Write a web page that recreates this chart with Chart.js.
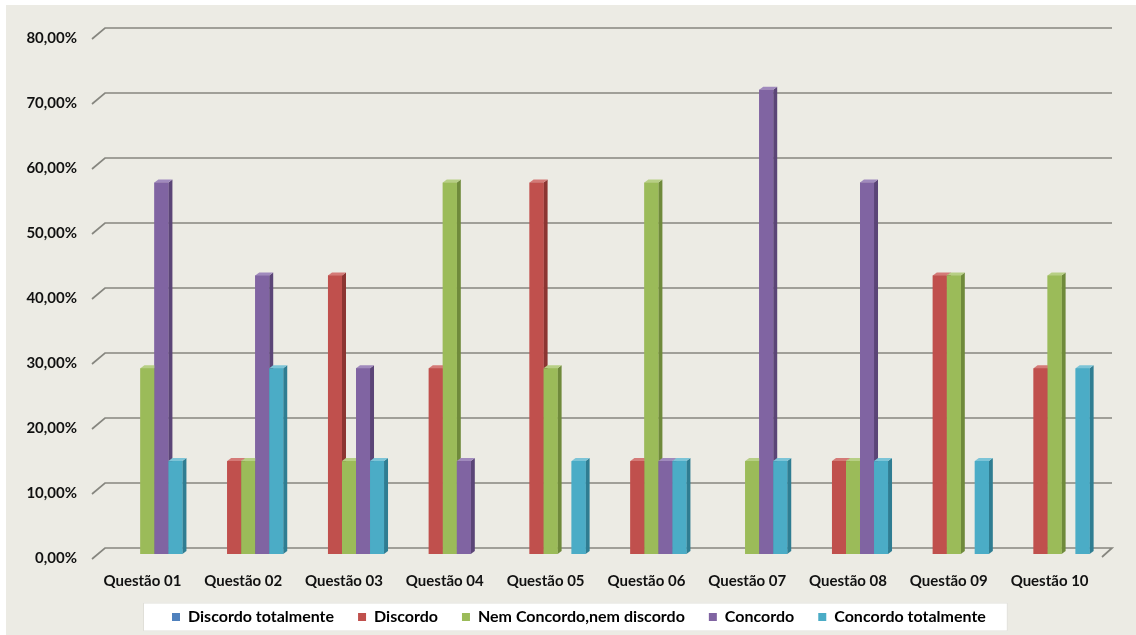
<!DOCTYPE html>
<html>
<head>
<meta charset="utf-8">
<script src="https://cdn.jsdelivr.net/npm/chart.js@4.4.1/dist/chart.umd.min.js"></script>
<style>
  html, body { margin: 0; padding: 0; background: #ffffff; }
  #wrap { position: absolute; left: 6px; top: 5px; width: 1130px; height: 630px; background: #ecebe4; }
</style>
</head>
<body>
<div id="wrap"><canvas id="chart" width="1130" height="630"></canvas></div>
<script>
// dados da pesquisa (fração de respostas por questão)
const questoes = ['Questão 01', 'Questão 02', 'Questão 03', 'Questão 04', 'Questão 05',
                  'Questão 06', 'Questão 07', 'Questão 08', 'Questão 09', 'Questão 10'];

const discordoTotalmente = [0, 0, 0, 0, 0, 0, 0, 0, 0, 0];
const discordo           = [0, 0.1429, 0.4286, 0.2857, 0.5714, 0.1429, 0, 0.1429, 0.4286, 0.2857];
const nemConcordo        = [0.2857, 0.1429, 0.1429, 0.5714, 0.2857, 0.5714, 0.1429, 0.1429, 0.4286, 0.4286];
const concordo           = [0.5714, 0.4286, 0.2857, 0.1429, 0, 0.1429, 0.7143, 0.5714, 0, 0];
const concordoTotalmente = [0.1429, 0.2857, 0.1429, 0, 0.1429, 0.1429, 0.1429, 0.1429, 0.1429, 0.2857];

const SERIES = [
  { label: 'Discordo totalmente',        data: discordoTotalmente, color: '#4f81bd', side: '#385d8a', top: '#7a9fcf' },
  { label: 'Discordo',                   data: discordo,           color: '#c0504d', side: '#8c3532', top: '#d47a77' },
  { label: 'Nem Concordo,nem discordo',  data: nemConcordo,        color: '#9bbb59', side: '#6f8a3b', top: '#b7cf85' },
  { label: 'Concordo',                   data: concordo,           color: '#8064a2', side: '#5b4577', top: '#a08abd' },
  { label: 'Concordo totalmente',        data: concordoTotalmente, color: '#4bacc6', side: '#2f7d92', top: '#7cc4d7' },
];

const FONT = 'Lato, "Open Sans", sans-serif';
const DEPTH_X = 4, DEPTH_Y = 3;
const LEGEND_PAD = 24;

// grade com efeito 3D (parede de fundo deslocada) + faces laterais das barras
const grid3d = {
  id: 'grid3d',
  beforeDatasetsDraw(chart) {
    const { ctx, chartArea: a, scales: { y } } = chart;
    ctx.save();
    ctx.strokeStyle = '#86867f';
    ctx.lineWidth = 1.7;
    y.ticks.forEach(t => {
      const yf = y.getPixelForValue(t.value);
      ctx.beginPath();
      ctx.moveTo(a.left - 5, yf + 5);
      ctx.lineTo(a.left + 8, yf - 6);
      ctx.lineTo(a.right + 7, yf - 6);
      if (t.value === 0) ctx.lineTo(a.right - 3, yf + 3);
      ctx.stroke();
    });
    ctx.restore();
  },
  afterDatasetsDraw(chart) {
    const { ctx } = chart;
    const n = chart.data.labels.length;
    ctx.save();
    for (let i = 0; i < n; i++) {
      chart.data.datasets.forEach((ds, di) => {
        const el = chart.getDatasetMeta(di).data[i];
        if (!el || !ds.data[i]) return;
        const { x, y, base, width } = el.getProps(['x', 'y', 'base', 'width'], true);
        const l = x - width / 2, r = x + width / 2;
        const s = SERIES[di];
        ctx.fillStyle = s.side;
        ctx.beginPath();
        ctx.moveTo(r, y); ctx.lineTo(r + DEPTH_X, y - DEPTH_Y);
        ctx.lineTo(r + DEPTH_X, base - DEPTH_Y); ctx.lineTo(r, base);
        ctx.closePath(); ctx.fill();
        ctx.fillStyle = s.top;
        ctx.beginPath();
        ctx.moveTo(l, y); ctx.lineTo(l + DEPTH_X, y - DEPTH_Y);
        ctx.lineTo(r + DEPTH_X, y - DEPTH_Y); ctx.lineTo(r, y);
        ctx.closePath(); ctx.fill();
        ctx.fillStyle = s.color;
        ctx.fillRect(l, y, width, base - y);
      });
    }
    ctx.restore();
  }
};

// legenda deslocada como no Excel, com caixa branca atrás
const legendBox = {
  id: 'legendBox',
  afterLayout(chart) {
    const lg = chart.legend;
    lg.left = 142;
    lg.top = 580;
    lg.bottom = chart.height;
    lg.height = lg.bottom - lg.top;
  },
  beforeDraw(chart) {
    const lg = chart.legend;
    const boxes = lg && lg.legendHitBoxes;
    if (!boxes || !boxes.length) return;
    const last = boxes[boxes.length - 1];
    const { ctx } = chart;
    ctx.save();
    ctx.fillStyle = '#ffffff';
    ctx.strokeStyle = '#e0dfd8';
    const x0 = lg.left + LEGEND_PAD - 29, x1 = last.left + last.width + 22;
    const yc = lg.top + LEGEND_PAD + last.height / 2;
    ctx.fillRect(x0, yc - 14.5, x1 - x0, 29);
    ctx.strokeRect(x0 + 0.5, yc - 14, x1 - x0 - 1, 28);
    ctx.restore();
  }
};

new Chart(document.getElementById('chart'), {
  type: 'bar',
  data: {
    labels: questoes,
    datasets: SERIES.map(s => ({
      label: s.label,
      data: s.data,
      backgroundColor: s.color,
      borderWidth: 0,
      barPercentage: 1,
      categoryPercentage: 0.695,
    })),
  },
  options: {
    responsive: false,
    animation: false,
    layout: { padding: { top: 29, right: 31, left: 0, bottom: 0 } },
    plugins: {
      legend: {
        position: 'bottom',
        align: 'start',
        maxHeight: 36,
        labels: {
          color: '#000000',
          font: { family: FONT, size: 16, weight: 'bold' },
          boxWidth: 8, boxHeight: 8,
          padding: LEGEND_PAD,
        },
      },
      tooltip: { enabled: false },
    },
    scales: {
      x: {
        grid: { display: false },
        border: { display: false },
        ticks: { color: '#111111', font: { family: FONT, size: 15, weight: 'bold' }, padding: 10, labelOffset: -5, maxRotation: 0 },
        afterFit: s => { s.height = 45; },
      },
      y: {
        min: 0, max: 0.8,
        grid: { display: false },
        border: { display: false },
        ticks: {
          stepSize: 0.1,
          color: '#111111',
          padding: 12,
          labelOffset: 4,
          font: { family: FONT, size: 15, weight: 'bold' },
          callback: v => (v * 100).toFixed(2).replace('.', ',') + '%',
        },
        afterFit: s => { s.width = 91; },
      },
    },
  },
  plugins: [legendBox, grid3d],
});
</script>
</body>
</html>
